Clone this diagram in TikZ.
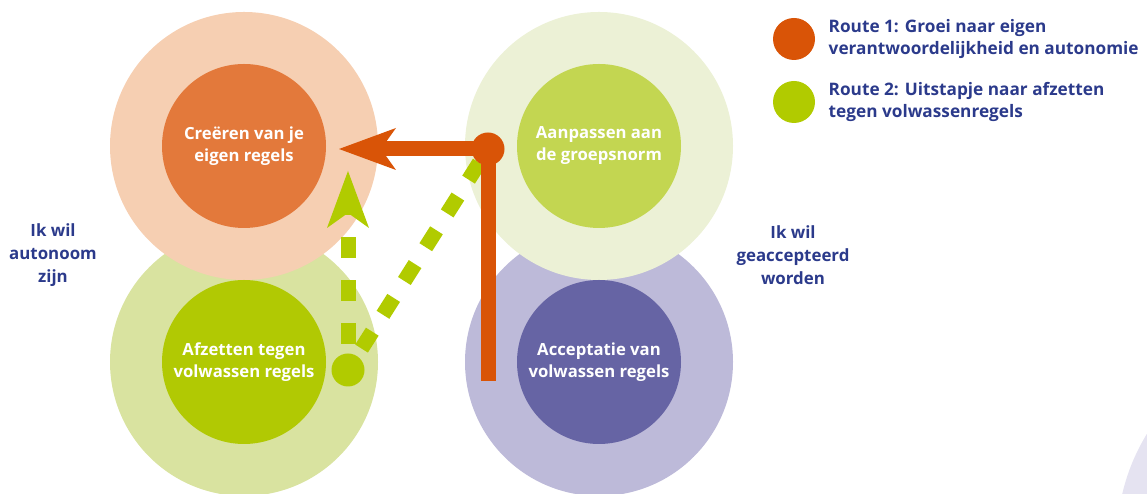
\documentclass[tikz,border=0pt]{standalone}
\usepackage{fontspec}
\setmainfont{Open Sans}
\usetikzlibrary{positioning,arrows.meta}

\definecolor{peachring}{HTML}{F6CFB2}
\definecolor{orangecore}{HTML}{E3793B}
\definecolor{limering}{HTML}{D9E3A0}
\definecolor{limecore}{HTML}{B1C903}
\definecolor{creamring}{HTML}{ECF1D6}
\definecolor{greencore}{HTML}{C3D651}
\definecolor{lilacring}{HTML}{BDBAD9}
\definecolor{purplecore}{HTML}{6664A4}
\definecolor{routeorange}{HTML}{D95407}
\definecolor{routegreen}{HTML}{B1CB00}
\definecolor{navy}{HTML}{2B3A8B}
\definecolor{cornerlilac}{HTML}{E5E3F1}

\tikzset{
  ring/.style={circle, minimum size=5.36cm, inner sep=0pt},
  core/.style={circle, minimum size=3.28cm, inner sep=0pt, text=white, align=center,
    font=\bfseries\fontsize{9.5}{12.5}\selectfont},
  sidetext/.style={text=navy, align=center, font=\bfseries\fontsize{9.6}{13}\selectfont},
  legendtext/.style={text=navy, align=left, inner sep=0pt,
    font=\bfseries\fontsize{9.8}{12.5}\selectfont},
  legenddot/.style={circle, minimum size=0.84cm, inner sep=0pt},
  routedot/.style={circle, minimum size=0.66cm, inner sep=0pt},
  routetip/.style={-{Stealth[length=1.14cm, width=0.84cm, inset=0.3cm, line width=0pt]}},
  routeone/.style={draw=routeorange, line width=0.3cm, routetip},
  routetwo/.style={draw=routegreen, line width=0.3cm},
}

\begin{document}
\begin{tikzpicture}
    \useasboundingbox (0,0) rectangle (22.94,9.88);

    % Corner shape at the bottom right
    \begin{scope}
        \clip (0,0) rectangle (22.94,9.88);
        \fill[cornerlilac] (26.4,-0.92) circle (4.06);
    \end{scope}

    % Outer rings (lower ones first)
    \node[ring, fill=limering] (afzettenring) at (4.88,2.64) {};
    \node[ring, fill=peachring] (creerenring) at (4.88,6.96) {};
    \node[ring, fill=lilacring] (acceptatiering) at (11.98,2.64) {};
    \node[ring, fill=creamring] (aanpassenring) at (11.98,6.96) {};

    % Inner discs with their text
    \node[core, fill=orangecore] (creeren) at (creerenring) {Creëren van je\\eigen regels};
    \node[core, fill=limecore] (afzetten) at (afzettenring) {Afzetten tegen\\volwassen regels};
    \node[core, fill=greencore] (aanpassen) at (aanpassenring) {Aanpassen aan\\de groepsnorm};
    \node[core, fill=purplecore] (acceptatie) at (acceptatiering) {Acceptatie van\\volwassen regels};

    % Side texts
    \node[sidetext] (autonoom) at (1.06,4.78) {Ik wil\\autonoom\\zijn};
    \node[sidetext] (geaccepteerd) at (15.86,4.78) {Ik wil\\geaccepteerd\\worden};

    % Legend
    \node[legenddot, fill=routeorange] (legendone) at (15.88,9.10) {};
    \node[legendtext, right=0.26cm of legendone] (legendonetext) {Route 1: Groei naar eigen\\verantwoordelijkheid en autonomie};
    \node[legenddot, fill=routegreen] (legendtwo) at (15.88,7.84) {};
    \node[legendtext, right=0.26cm of legendtwo] (legendtwotext) {Route 2: Uitstapje naar afzetten\\tegen volwassenregels};

    % Route 2: dashed green
    \node[routedot, fill=routegreen] (gdot) at (6.96,2.48) {};
    \coordinate (bend) at (9.76,6.90);
    \coordinate (gtip) at (6.96,6.46);
    \draw[routetwo, routetip, dash pattern=on 0.42cm off 0.44cm, dash phase=0.67cm] (gdot) -- (gtip);
    \draw[routetwo, dash pattern=on 0.4cm off 0.4cm, dash phase=0.63cm] (gdot) -- (bend);

    % Route 1: solid orange
    \coordinate (obottom) at (9.76,2.26);
    \coordinate (otip) at (6.78,6.90);
    \draw[routeone] (obottom) -- (bend) -- (otip);
    \node[routedot, fill=routeorange] (odot) at (bend) {};
\end{tikzpicture}
\end{document}
